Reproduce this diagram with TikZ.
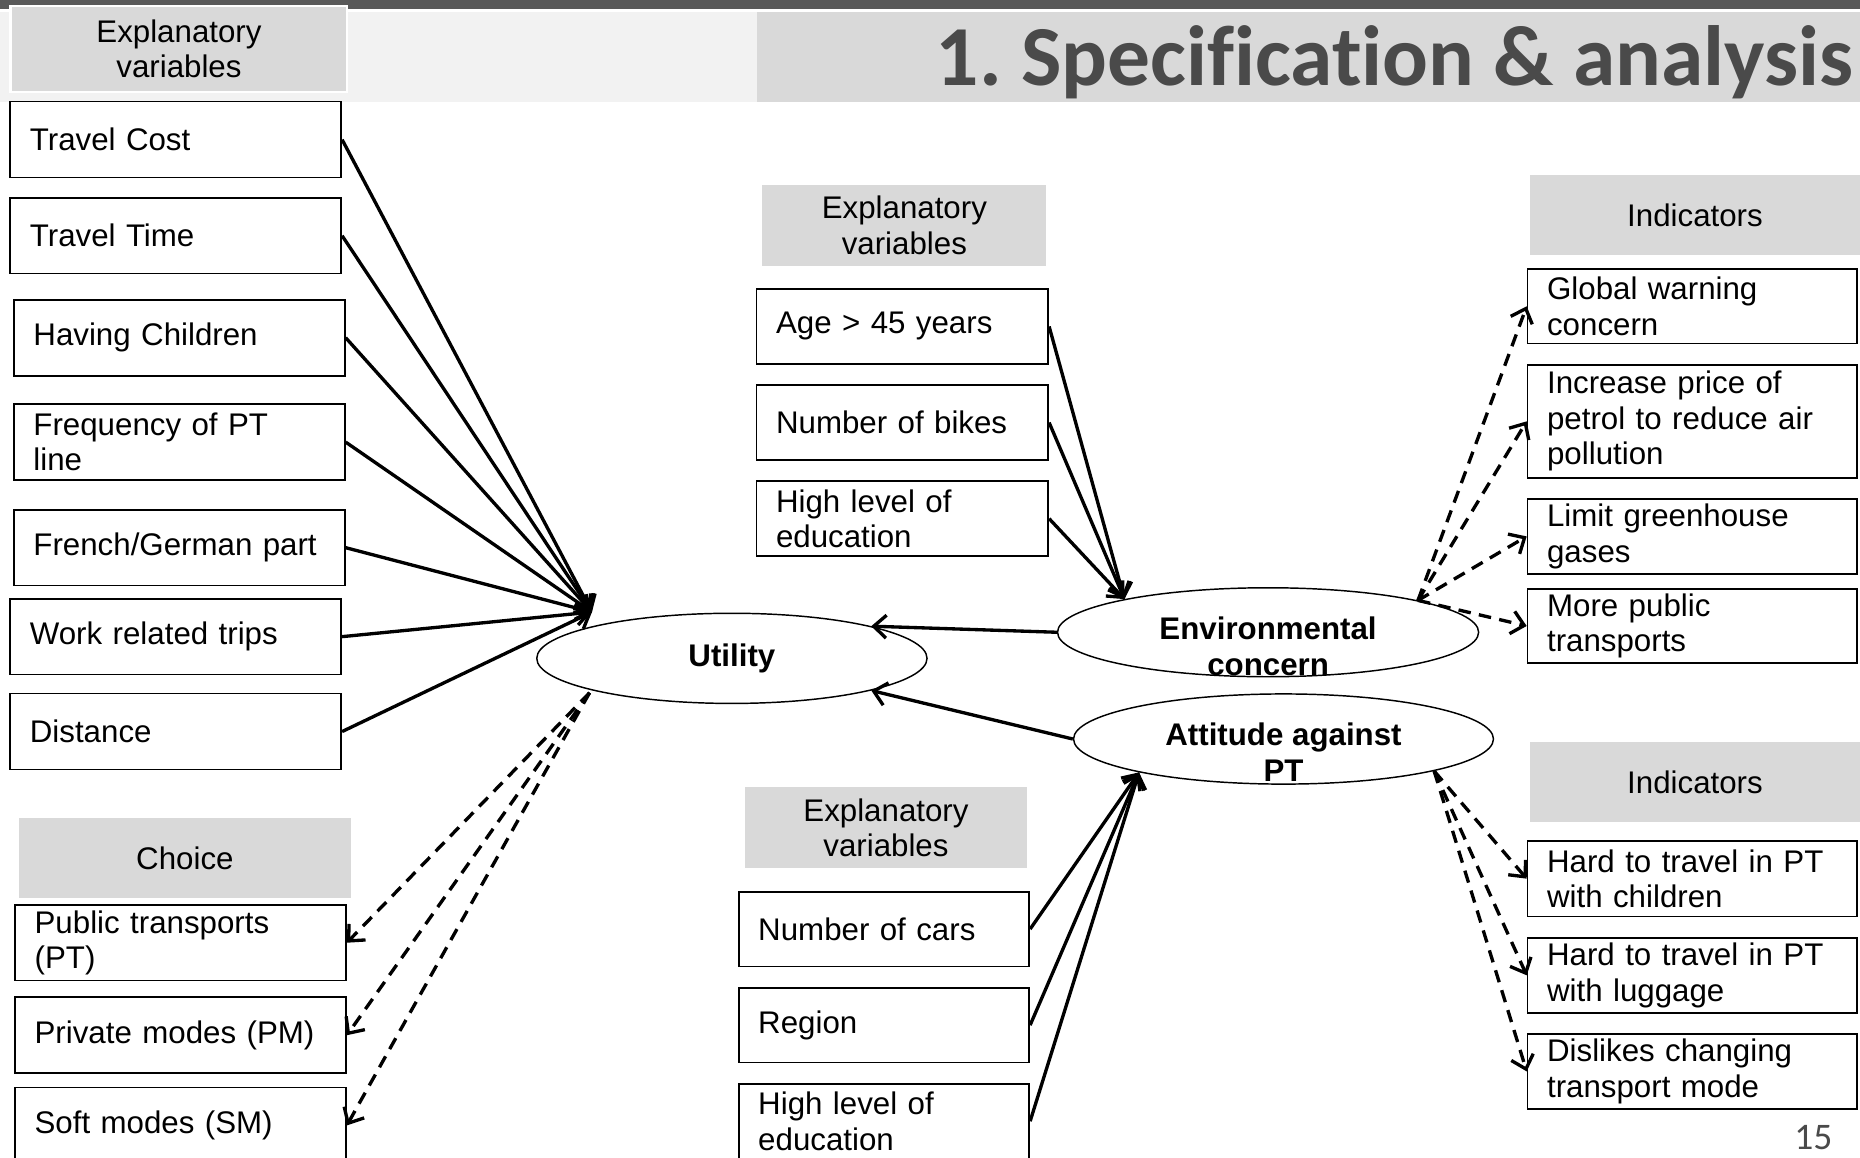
\documentclass[tikz,border=0pt]{standalone}
\usepackage{fontspec}
\setmainfont{Liberation Sans}
\newfontfamily\titlefont[Ligatures=NoCommon]{Carlito}
\usetikzlibrary{arrows.meta,shapes.geometric}
\definecolor{bargray}{HTML}{595959}
\definecolor{bandgray}{HTML}{F2F2F2}
\definecolor{headgray}{HTML}{D9D9D9}
\definecolor{titlegray}{HTML}{4A4A4A}

\begin{document}
\begin{tikzpicture}[x=0.2mm, y=-0.2mm,
	every node/.style={font=\fontsize{15}{17}\selectfont},
	varbox/.style={draw, line width=0.8pt, fill=white, anchor=north west, align=left, inner xsep=0.33cm, inner ysep=0pt},
	headbox/.style={draw=white, line width=1pt, fill=headgray, anchor=north west, align=center, inner sep=0pt},
	latent/.style={draw, ellipse, line width=0.7pt, inner sep=0pt},
	latentlabel/.style={font=\bfseries\fontsize{15}{17}\selectfont, align=center, inner sep=0pt},
	causal/.style={line width=1.6pt, -{Straight Barb[length=6pt,width=11pt]}},
	measure/.style={causal, dash pattern=on 6pt off 4pt}]
				% page and title band
				\fill[white] (0,0) rectangle (1568,976);
				\useasboundingbox (0,0) rectangle (1568,976);
				\fill[bargray] (0,0) rectangle (1568,8);
				\fill[bandgray] (0,10) rectangle (1568,86);
				\fill[headgray] (638,10) rectangle (1568,86);
				\node[anchor=base east, inner sep=0pt, text=titlegray, font=\titlefont\bfseries\fontsize{41}{41}\selectfont] (title) at (1563,72) {1.\ Specification \& analysis};
				\node[anchor=base east, inner sep=0pt, text=titlegray, font=\titlefont\fontsize{18}{18}\selectfont] (pagenum) at (1545,969) {15};
				
				% headers
				\node[headbox, minimum width=5.68cm, minimum height=1.46cm] (hexpl) at (8,4) {Explanatory\\variables};
				\node[headbox, minimum width=5.64cm, minimum height=1.38cm] (hchoice) at (14,688) {Choice};
				\node[headbox, minimum width=4.82cm, minimum height=1.4cm] (hexplenv) at (641,154) {Explanatory\\variables};
				\node[headbox, minimum width=4.8cm, minimum height=1.4cm] (hexplatt) at (626,662) {Explanatory\\variables};
				\node[headbox, minimum width=5.6cm, minimum height=1.38cm] (hindenv) at (1288,146) {Indicators};
				\node[headbox, minimum width=5.6cm, minimum height=1.38cm] (hindatt) at (1288,624) {Indicators};
				
				% utility variables
				\node[varbox, text width=4.92cm, minimum height=1.28cm] (tc) at (8,85) {Travel Cost};
				\node[varbox, text width=4.92cm, minimum height=1.28cm] (tt) at (8,166) {Travel Time};
				\node[varbox, text width=4.92cm, minimum height=1.28cm] (hc) at (11,252) {Having Children};
				\node[varbox, text width=4.92cm, minimum height=1.28cm] (fq) at (11,340) {Frequency of PT\\line};
				\node[varbox, text width=4.92cm, minimum height=1.28cm] (fg) at (11,429) {French/German part};
				\node[varbox, text width=4.92cm, minimum height=1.28cm] (wr) at (8,504) {Work related trips};
				\node[varbox, text width=4.92cm, minimum height=1.28cm] (di) at (8,584) {Distance};
				
				% choice
				\node[varbox, text width=4.92cm, minimum height=1.28cm] (pt) at (12,762) {Public transports\\(PT)};
				\node[varbox, text width=4.92cm, minimum height=1.28cm] (pm) at (12,840) {Private modes (PM)};
				\node[varbox, text width=4.92cm, minimum height=1.28cm] (sm) at (12,916) {Soft modes (SM)};
				
				% environmental concern variables
				\node[varbox, text width=4.26cm, minimum height=1.26cm] (age) at (637,243) {Age > 45 years};
				\node[varbox, text width=4.26cm, minimum height=1.26cm] (bike) at (637,324) {Number of bikes};
				\node[varbox, text width=4.26cm, minimum height=1.26cm] (edu) at (637,405) {High level of\\education};
				
				% attitude variables
				\node[varbox, text width=4.24cm, minimum height=1.26cm] (car) at (622,751) {Number of cars};
				\node[varbox, text width=4.24cm, minimum height=1.26cm] (reg) at (622,832) {Region};
				\node[varbox, text width=4.24cm, minimum height=1.26cm] (edub) at (622,913) {High level of\\education};
				
				% indicators
				\node[varbox, text width=4.9cm, minimum height=1.26cm] (gw) at (1287,226) {Global warning\\concern};
				\node[varbox, text width=4.9cm, minimum height=1.9cm] (ip) at (1287,307) {Increase price of\\petrol to reduce air\\pollution};
				\node[varbox, text width=4.9cm, minimum height=1.26cm] (lg) at (1287,420) {Limit greenhouse\\gases};
				\node[varbox, text width=4.9cm, minimum height=1.24cm] (mp) at (1287,496) {More public\\transports};
				\node[varbox, text width=4.9cm, minimum height=1.28cm] (hw) at (1287,708) {Hard to travel in PT\\with children};
				\node[varbox, text width=4.9cm, minimum height=1.26cm] (hl) at (1287,790) {Hard to travel in PT\\with luggage};
				\node[varbox, text width=4.9cm, minimum height=1.26cm] (dc) at (1287,871) {Dislikes changing\\transport mode};
				
				% latent variables
				\node[latent, minimum width=6.58cm, minimum height=1.52cm, font=\bfseries\fontsize{15}{17}\selectfont] (util) at (617,555) {Utility};
				\node[latent, minimum width=7.1cm, minimum height=1.5cm] (env) at (1069,533) {};
				\node[latent, minimum width=7.08cm, minimum height=1.52cm] (att) at (1082,623) {};
				\node[latentlabel] (envtext) at (1069,545) {Environmental\\concern};
				\node[latentlabel] (atttext) at (1082,634) {Attitude against\\PT};
				
				% connectors
				\coordinate (utilin) at (499,516);
				\coordinate (utilout) at (497,584);
				\foreach \b in {tc,tt,hc,fq,fg,wr,di}
					\draw[causal] (\b.east) -- (utilin);
				\foreach \b in {pt,pm,sm}
					\draw[measure] (utilout) -- (\b.east);
				\draw[causal] (env.west) -- (util.13);
				\draw[causal] (att.west) -- (util.-13);
				\foreach \b in {age,bike,edu}
					\draw[causal] (\b.east) -- (env.167);
				\foreach \b in {car,reg,edub}
					\draw[causal] (\b.east) -- (att.193);
				\foreach \b in {gw,ip,lg,mp}
					\draw[measure] (env.12) -- (\b.west);
				\foreach \b in {hw,hl,dc}
					\draw[measure] (att.-12) -- (\b.west);
			\end{tikzpicture}
\end{document}
